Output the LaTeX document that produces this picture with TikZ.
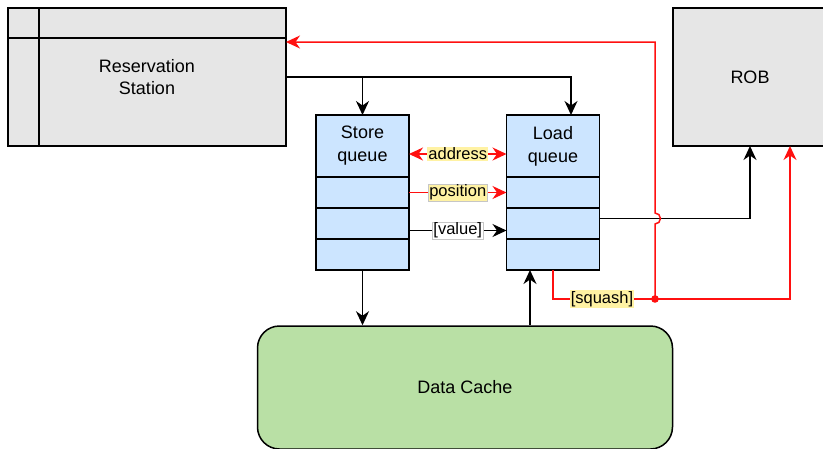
\documentclass[tikz,border=0pt]{standalone}
\usepackage{fontspec}
\setmainfont{Liberation Sans}
\usetikzlibrary{positioning,arrows.meta}
\definecolor{unitgray}{HTML}{E6E6E6}
\definecolor{queueblue}{HTML}{CCE5FF}
\definecolor{cachegreen}{HTML}{B9E0A5}
\definecolor{tagyellow}{HTML}{FFF2A3}
\definecolor{sigred}{HTML}{FF1010}

\begin{document}
\begin{tikzpicture}[x=1pt, y=-1pt, line width=1.5pt, >={Stealth[length=14pt, width=13pt, inset=4.5pt]},
	unit/.style ={rectangle, draw, fill=unitgray, inner sep=0pt, outer sep=0pt,
		font=\fontsize{18}{22}\selectfont, align=center},
	cell/.style ={rectangle, draw, fill=queueblue, minimum width=93pt, minimum height=31pt,
		inner sep=0pt, outer sep=0pt},
	head/.style ={cell, minimum height=62pt, font=\fontsize{18}{23}\selectfont, align=center},
	tag/.style ={fill=tagyellow, inner sep=1pt, font=\fontsize{16.5}{19}\selectfont, text=black},
	boxtag/.style ={tag, draw=gray!45, line width=0.5pt}]
	\useasboundingbox (0,0) rectangle (823,448);
	\clip (0,0) rectangle (823,448);

	% units
	\node[unit, minimum width=278pt, minimum height=138pt] (rs) at (147,77) {Reservation\\Station};
	\draw ([xshift=31pt]rs.north west) -- ([xshift=31pt]rs.south west);
	\draw ([yshift=-30pt]rs.north west) -- ([yshift=-30pt]rs.north east);
	\node[unit, minimum width=154pt, minimum height=138pt] (rob) at (750,77) {ROB};
	\node[rectangle, draw, fill=cachegreen, rounded corners=22pt, minimum width=415pt,
		minimum height=123pt, font=\fontsize{18}{22}\selectfont] (dc) at (465,387.5) {Data Cache};

	% store queue
	\node[head] (sq0) at (362.5,146) {Store\\queue};
	\node[cell] (sq1) [below=0pt of sq0] {};
	\node[cell] (sq2) [below=0pt of sq1] {};
	\node[cell] (sq3) [below=0pt of sq2] {};

	% load queue
	\node[head] (lq0) at (553,146) {Load\\queue};
	\node[cell] (lq1) [below=0pt of lq0] {};
	\node[cell] (lq2) [below=0pt of lq1] {};
	\node[cell] (lq3) [below=0pt of lq2] {};

	\coordinate (lqtop) at ([xshift=18pt]lq0.north);
	\coordinate (lqin) at ([xshift=-23pt]lq3.south);
	\coordinate (rsin) at ([yshift=35pt]rs.east);
	\coordinate (junc) at (655,299);

	% dispatch
	\draw[->] (rs.east) -| (lqtop);
	\draw[->] (rs.east -| sq0.north) -- (sq0.north);

	% store queue to load queue
	\draw[<->, sigred] ([yshift=-8pt]sq0.east) -- node[tag] {address} ([yshift=-8pt]lq0.west);
	\draw[->, sigred] (sq1.east) -- node[boxtag] {position} (lq1.west);
	\draw[->] ([yshift=-7pt]sq2.east) -- node[boxtag, fill=white] {[value]} ([yshift=-7pt]lq2.west);

	% memory side
	\draw[->] (sq3.south) -- (sq3.south |- dc.north);
	\draw[->] (lqin |- dc.north) -- (lqin);
	\draw[->] ([yshift=5pt]lq2.east) -| (rob.south);

	% squash
	\draw[->, sigred] (lq3.south) |- node[tag, pos=0.74] {[squash]} (junc) -| ([xshift=40pt]rob.south);
	\draw[->, sigred] (junc) -- ++(0,-75) arc[start angle=-90, end angle=90, radius=5.5pt] |- (rsin);
	\fill[sigred] (junc) circle (3.8pt);
\end{tikzpicture}
\end{document}
